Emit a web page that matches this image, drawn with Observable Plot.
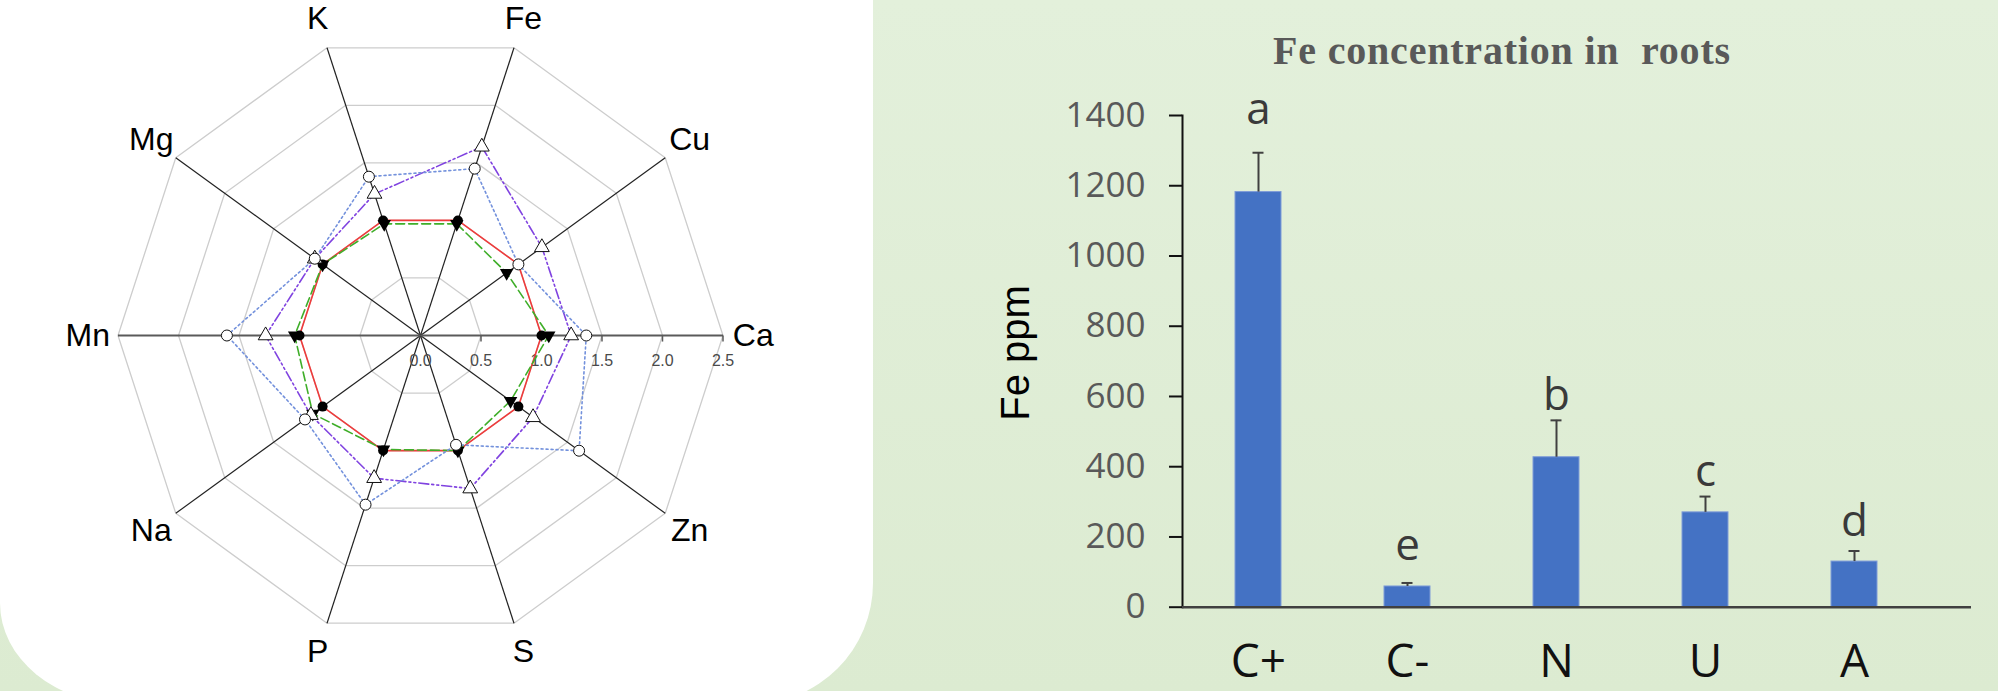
<!DOCTYPE html>
<html>
<head>
<meta charset="utf-8">
<script src="https://cdn.jsdelivr.net/npm/d3@7"></script>
<script src="https://cdn.jsdelivr.net/npm/@observablehq/plot@0.6"></script>
<style>
  html, body { margin: 0; padding: 0; width: 1998px; height: 691px; overflow: hidden; }
  body { position: relative; background: linear-gradient(#e3f0db, #dcebd1); font-family: "Liberation Sans", Arial, sans-serif; }
  #panel { position: absolute; left: 0; top: -20px; width: 873px; height: 724px; background: #fff;
           border-bottom-right-radius: 121px; border-bottom-left-radius: 124px 101px; }
  #radar { position: absolute; left: 0; top: 0; width: 873px; height: 691px; }
  #bars { position: absolute; left: 880px; top: 0; width: 1118px; height: 691px; }
  #title { position: absolute; left: 1202px; top: 31px; width: 600px; text-align: center;
           font-family: "Liberation Serif", serif; font-weight: bold; font-size: 40px; line-height: 40px;
           color: #595959; letter-spacing: 0.8px; white-space: pre; }
  #ylabel { position: absolute; left: 1015px; top: 353px; width: 0; height: 0; }
  #ylabel span { position: absolute; left: 0; top: 0; transform: translate(-50%, -50%) rotate(-90deg);
           font-family: "Liberation Sans", Arial, sans-serif; font-size: 40px; line-height: 40px;
           color: #000; white-space: nowrap; }
</style>
</head>
<body>
<div id="panel"></div>
<div id="radar"></div>
<div id="title">Fe concentration in  roots</div>
<div id="ylabel"><span>Fe ppm</span></div>
<div id="bars"></div>
<script>
// ---------- Radar data ----------
const elements = ["Fe", "Cu", "Ca", "Zn", "S", "P", "Na", "Mn", "Mg", "K"];
const ringLevels = [0.5, 1.0, 1.5, 2.0, 2.5];
const radialTicks = [0.0, 0.5, 1.0, 1.5, 2.0, 2.5];
const redValues    = [1.00, 1.00, 1.00, 1.00, 1.00, 1.00, 1.00, 1.00, 1.00, 1.00];
const greenValues  = [0.97, 0.88, 1.06, 0.92, 1.00, 0.99, 1.10, 1.04, 1.00, 0.97];
const purpleValues = [1.64, 1.24, 1.245, 1.15, 1.33, 1.24, 1.12, 1.28, 1.08, 1.23];
const blueValues   = [1.45, 1.00, 1.37, 1.62, 0.95, 1.47, 1.18, 1.60, 1.08, 1.38];

// ---------- Bar data ----------
const treatments = ["C+", "C-", "N", "U", "A"];
const feRoots = [1182, 59, 427, 270, 130];
const feSE = [112, 10, 105, 45, 30];
const sigLetters = ["a", "e", "b", "c", "d"];
const letterLevels = [1376, 133, 562, 345, 204];
const yTicks = [0, 200, 400, 600, 800, 1000, 1200, 1400];

// ---------- Radar ----------
const CX = 420, CY = 335, UNIT = 121, W1 = 873, H1 = 691;
const ang = i => (18 + 36 * i) * Math.PI / 180;
const px = (r, i) => r * Math.sin(ang(i));
const py = (r, i) => r * Math.cos(ang(i));
const RMAX = ringLevels[ringLevels.length - 1];
const RLABEL = 2.75;

const rings = ringLevels.flatMap(r =>
  [...elements.keys(), 0].map(i => ({r, x: px(r, i), y: py(r, i)})));
const spokes = elements.map((e, i) => ({e, x: px(RMAX, i), y: py(RMAX, i)}));
const horizontal = s => s.e === "Ca" || s.e === "Mn";
const toPts = vals => vals.map((v, i) => ({x: px(v, i), y: py(v, i)}));
const redPts = toPts(redValues), greenPts = toPts(greenValues),
      purplePts = toPts(purpleValues), bluePts = toPts(blueValues);

const radar = Plot.plot({
  width: W1, height: H1, margin: 0,
  style: {background: "transparent", maxWidth: "none", overflow: "visible"},
  x: {domain: [-CX / UNIT, (W1 - CX) / UNIT], range: [0, W1], axis: null},
  y: {domain: [-(H1 - CY) / UNIT, CY / UNIT], range: [H1, 0], axis: null},
  marks: [
    Plot.line(rings, {x: "x", y: "y", z: "r", stroke: "#cdcdcd", strokeWidth: 1.3}),
    Plot.link(spokes.filter(s => !horizontal(s)), {x1: 0, y1: 0, x2: "x", y2: "y", stroke: "#222", strokeWidth: 1.2}),
    Plot.link(spokes.filter(horizontal), {x1: 0, y1: 0, x2: "x", y2: "y", stroke: "#5a5a5a", strokeWidth: 2}),
    Plot.link(radialTicks.slice(1), {x1: d => d, x2: d => d, y1: 0, y2: -0.05, stroke: "#5a5a5a", strokeWidth: 1.5}),
    Plot.text(radialTicks, {x: d => d, y: 0, dy: 25, text: d => d.toFixed(1), fontSize: 16, fill: "#4a4a4a",
      fontFamily: "Liberation Sans"}),
    Plot.line(redPts, {x: "x", y: "y", curve: "linear-closed", stroke: "#ee3b3b", strokeWidth: 1.6}),
    Plot.line(greenPts, {x: "x", y: "y", curve: "linear-closed", stroke: "#3fae29", strokeWidth: 1.6,
      strokeDasharray: "9,4"}),
    Plot.line(purplePts, {x: "x", y: "y", curve: "linear-closed", stroke: "#8043e0", strokeWidth: 1.6,
      strokeDasharray: "10,3,2,3,2,3"}),
    Plot.line(bluePts, {x: "x", y: "y", curve: "linear-closed", stroke: "#7391dc", strokeWidth: 1.6,
      strokeDasharray: "2,3"}),
    Plot.dot(greenPts, {x: "x", y: "y", symbol: "triangle", rotate: 180, r: 5, fill: "#000"}),
    Plot.dot(redPts, {x: "x", y: "y", symbol: "circle", r: 5, fill: "#000"}),
    Plot.dot(purplePts, {x: "x", y: "y", symbol: "triangle", r: 5.5, fill: "#fff", stroke: "#111", strokeWidth: 1}),
    Plot.dot(bluePts, {x: "x", y: "y", symbol: "circle", r: 5.5, fill: "#fff", stroke: "#111", strokeWidth: 1}),
    Plot.text(elements, {x: (d, i) => px(RLABEL, i), y: (d, i) => py(RLABEL, i), text: d => d,
      fontSize: 32, fill: "#000", fontFamily: "Liberation Sans"})
  ]
});
document.getElementById("radar").append(radar);

// ---------- Bars ----------
const barData = treatments.map((t, i) => ({
  t, v: feRoots[i], top: feRoots[i] + feSE[i], letter: sigLetters[i], ly: letterLevels[i]
}));
const W2 = 1118, H2 = 691, ML = 302, MR = 27, MT = 115, MB = 84.3, STEP = 149.5;
const bars = Plot.plot({
  width: W2, height: H2, marginLeft: ML, marginRight: MR, marginTop: MT, marginBottom: MB,
  style: {background: "transparent", maxWidth: "none", overflow: "visible"},
  x: {domain: treatments, range: [ML, ML + STEP * treatments.length], paddingInner: 0.689, paddingOuter: 0.3445, label: null},
  y: {domain: [0, 1400], label: null},
  marks: [
    Plot.barY(barData, {x: "t", y: "v", fill: "#4472c4", stroke: "#7f9cd8", strokeWidth: 1}),
    Plot.ruleX(barData, {x: "t", y1: "v", y2: "top", stroke: "#404040", strokeWidth: 2}),
    Plot.tickY(barData, {x: "t", y: "top", stroke: "#404040", strokeWidth: 2, insetLeft: 17.5, insetRight: 17.5}),
    Plot.text(barData, {x: "t", y: "ly", text: "letter", lineAnchor: "bottom", fontSize: 44,
      fill: "#3a3a3a", fontFamily: "Open Sans"}),
    Plot.axisY({ticks: yTicks, tickFormat: d3.format("d"), tickSize: 13, tickPadding: 24, fontSize: 35,
      fill: "#595959", stroke: "#111", strokeWidth: 2, fontFamily: "Open Sans", label: null}),
    Plot.axisX({tickSize: 0, tickPadding: 37, fontSize: 46, fill: "#111", fontFamily: "Open Sans", label: null}),
    Plot.frame({anchor: "left", stroke: "#111", strokeWidth: 2}),
    Plot.ruleY([0], {stroke: "#404040", strokeWidth: 2.5})
  ]
});
document.getElementById("bars").append(bars);
</script>
</body>
</html>
